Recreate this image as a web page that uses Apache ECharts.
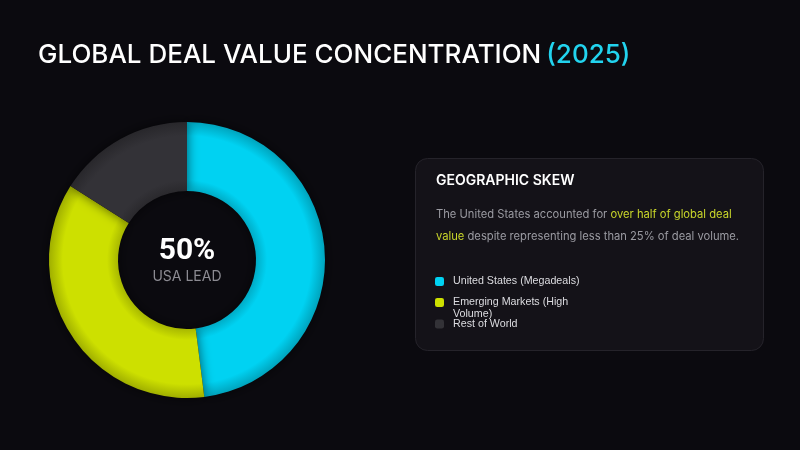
<!DOCTYPE html>
<html>
<head>
<meta charset="utf-8">
<script src="https://cdn.jsdelivr.net/npm/echarts@6/dist/echarts.min.js"></script>
<style>
html,body{margin:0;padding:0;background:#0b0a0f;}
#c{width:800px;height:450px;}
</style>
</head>
<body>
<div id="c"></div>
<script>
var categories = ['United States (Megadeals)', 'Emerging Markets (High Volume)', 'Rest of World'];
var values = [48, 36, 16];
var colors = ['#00d2f2', '#cde000', '#333237'];
var centerValue = '50%';
var centerLabel = 'USA LEAD';

var chart = echarts.init(document.getElementById('c'));
var CX = 187, CY = 260, R0 = 69, R1 = 138;

function shade(hex, f) {
  var n = parseInt(hex.slice(1), 16);
  var r = (n >> 16) & 255, g = (n >> 8) & 255, b = n & 255;
  return 'rgb(' + Math.round(r * f) + ',' + Math.round(g * f) + ',' + Math.round(b * f) + ')';
}
function grad(hex) {
  return {
    type: 'radial', x: CX, y: CY, r: R1, global: true,
    colorStops: [
      { offset: 0, color: shade(hex, 0.8) },
      { offset: 0.5, color: shade(hex, 0.82) },
      { offset: 0.58, color: hex },
      { offset: 0.9, color: hex },
      { offset: 1, color: shade(hex, 0.78) }
    ]
  };
}

var data = categories.map(function (c, i) {
  return { name: c, value: values[i], itemStyle: { color: grad(colors[i]) } };
});

var legendTops = [275.5, 284.5, 318];
var legends = categories.map(function (c, i) {
  var wrap = i === 1;
  return {
    orient: 'vertical', left: 435, top: legendTops[i], padding: 0,
    itemWidth: 9, itemHeight: 9,
    icon: 'roundRect',
    selectedMode: false,
    data: [{ name: c, itemStyle: { color: colors[i] } }],
    formatter: wrap ? function (name) { return '\n' + name; } : '{name}',
    textStyle: wrap ? {
      color: '#dcdce0', fontSize: 10.7, fontFamily: 'Liberation Sans',
      width: 125, overflow: 'break', lineHeight: 12, padding: [0, 0, 0, 4]
    } : {
      color: '#dcdce0', fontSize: 10.7, fontFamily: 'Liberation Sans', lineHeight: 12, padding: [0, 0, 0, 4]
    }
  };
});

chart.setOption({
  backgroundColor: '#0b0a0f',
  title: {
    left: 38, top: 42, padding: 0,
    text: '{a|GLOBAL DEAL VALUE CONCENTRATION} {b|(2025)}',
    textStyle: {
      rich: {
        a: { fontFamily: 'Inter', fontSize: 26, fontWeight: 500, color: '#ffffff' },
        b: { fontFamily: 'Inter', fontSize: 26, fontWeight: 500, color: '#22d3ee' }
      }
    }
  },
  legend: legends,
  graphic: [
    {
      type: 'rect', left: 415, top: 158, z: -1,
      shape: { width: 348, height: 192, r: 12 },
      style: { fill: '#141218', stroke: '#25232a', lineWidth: 1 }
    },
    {
      type: 'text', left: 436, top: 174,
      style: { text: 'GEOGRAPHIC SKEW', fill: '#ffffff', font: '600 14px Inter' }
    },
    {
      type: 'text', left: 436, top: 204,
      style: {
        text: 'The United States accounted for {h|over half of global deal}\n{h|value} despite representing less than 25% of deal volume.',
        fill: '#9b9ba2', font: '11.2px Inter', lineHeight: 22,
        rich: { h: { fill: '#c9d62a', font: '11.2px Inter', lineHeight: 22 } }
      }
    }
  ],
  series: [{
    type: 'pie',
    center: [CX, CY],
    radius: [R0, R1],
    startAngle: 90,
    clockwise: true,
    silent: true,
    label: {
      show: true, position: 'center',
      formatter: function () { return '{v|' + centerValue + '}\n{l|' + centerLabel + '}'; },
      rich: {
        v: { fontFamily: 'Roboto', fontWeight: 'bold', fontSize: 30, color: '#ffffff', lineHeight: 34 },
        l: { fontFamily: 'Inter', fontSize: 14, color: '#8c8b92', lineHeight: 18 }
      }
    },
    labelLine: { show: false },
    itemStyle: { borderWidth: 0, shadowBlur: 12, shadowColor: 'rgba(0,0,0,0.6)' },
    emphasis: { disabled: true },
    data: data
  }]
});
</script>
</body>
</html>
